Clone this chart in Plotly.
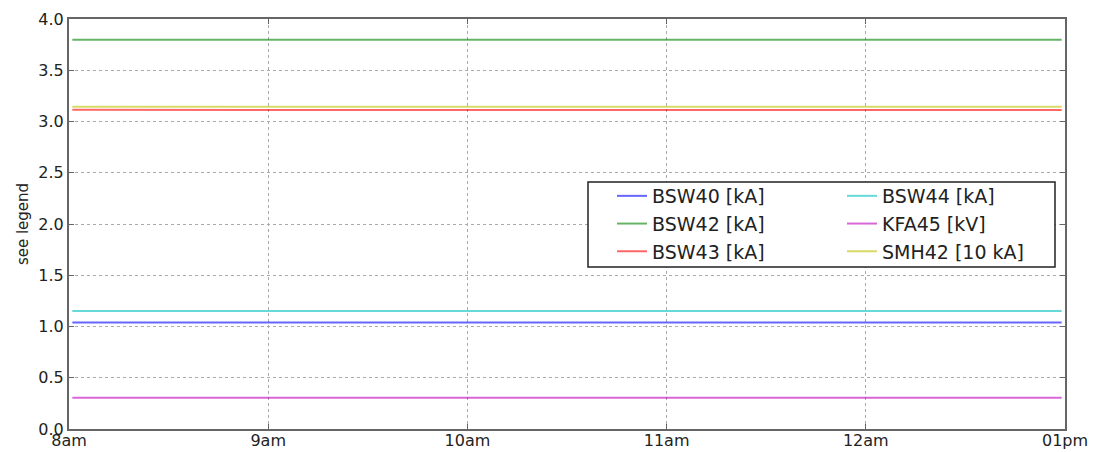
import plotly.graph_objects as go

times = ["2016-01-01 08:01", "2016-01-01 08:30", "2016-01-01 09:00", "2016-01-01 09:30",
         "2016-01-01 10:00", "2016-01-01 10:30", "2016-01-01 11:00", "2016-01-01 11:30",
         "2016-01-01 12:00", "2016-01-01 12:20", "2016-01-01 12:40", "2016-01-01 12:59"]

bsw40 = [1.04, 1.04, 1.04, 1.04, 1.04, 1.04, 1.04, 1.04, 1.04, 1.04, 1.04, 1.04]
bsw42 = [3.797, 3.797, 3.797, 3.797, 3.796, 3.797, 3.796, 3.796, 3.797, 3.795, 3.792, 3.797]
bsw43 = [3.115, 3.112, 3.111, 3.111, 3.111, 3.111, 3.111, 3.111, 3.111, 3.111, 3.111, 3.111]
bsw44 = [1.152, 1.152, 1.152, 1.152, 1.152, 1.152, 1.152, 1.152, 1.152, 1.152, 1.152, 1.152]
kfa45 = [0.304, 0.304, 0.304, 0.304, 0.304, 0.304, 0.304, 0.304, 0.304, 0.304, 0.304, 0.304]
smh42 = [3.145, 3.145, 3.145, 3.145, 3.145, 3.145, 3.145, 3.145, 3.145, 3.145, 3.145, 3.145]

tick_vals = ["2016-01-01 08:00", "2016-01-01 09:00", "2016-01-01 10:00",
             "2016-01-01 11:00", "2016-01-01 12:00", "2016-01-01 13:00"]
tick_text = ["8am", "9am", "10am", "11am", "12am", "01pm"]

series = [
    ("BSW40 [kA]", bsw40, "rgba(0,0,255,0.6)", "legend"),
    ("BSW42 [kA]", bsw42, "rgba(0,128,0,0.6)", "legend"),
    ("BSW43 [kA]", bsw43, "rgba(255,0,0,0.6)", "legend"),
    ("BSW44 [kA]", bsw44, "rgba(0,191,191,0.6)", "legend2"),
    ("KFA45 [kV]", kfa45, "rgba(191,0,191,0.6)", "legend2"),
    ("SMH42 [10 kA]", smh42, "rgba(191,191,0,0.6)", "legend2"),
]

fig = go.Figure()
for name, vals, col, leg in series:
    fig.add_trace(go.Scatter(x=times, y=vals, name=name, mode="lines", legend=leg,
                             line=dict(color=col, width=2)))

font = "DejaVu Sans, sans-serif"
L, R, T, B, W, H = 69, 31, 19, 23, 1096, 452
pw, ph = W - L - R, H - T - B

def px(x):
    return (x - L) / pw

def py(y):
    return (H - B - y) / ph

leg_common = dict(
    orientation="v", xanchor="left", yanchor="top",
    bgcolor="rgba(255,255,255,0)", borderwidth=0,
    font=dict(family=font, size=19, color="#222"),
    tracegroupgap=0, itemwidth=30,
)

fig.update_layout(
    width=W, height=H,
    margin=dict(l=L, r=R, t=T, b=B, autoexpand=False),
    paper_bgcolor="white", plot_bgcolor="white",
    font=dict(family=font, size=16, color="#222"),
    showlegend=True,
    legend=dict(x=px(612), y=py(177), **leg_common),
    legend2=dict(x=px(842), y=py(177), **leg_common),
    shapes=[dict(type="rect", xref="paper", yref="paper",
                 x0=px(588), x1=px(1055), y0=py(267), y1=py(182),
                 line=dict(color="#222", width=1.5), fillcolor="white", layer="above")],
    xaxis=dict(
        type="date", range=["2016-01-01 08:00", "2016-01-01 13:00"],
        tickvals=tick_vals, ticktext=tick_text,
        showgrid=True, gridcolor="#aaaaaa", griddash="dot", gridwidth=1,
        showline=True, linecolor="#666", linewidth=2, mirror="ticks",
        ticks="inside", ticklen=5, tickcolor="#666",
        tickfont=dict(size=16), zeroline=False, automargin=False,
        ticklabelstandoff=-4,
    ),
    yaxis=dict(
        range=[0, 4.0], tickvals=[0, 0.5, 1.0, 1.5, 2.0, 2.5, 3.0, 3.5, 4.0],
        ticktext=["0.0", "0.5", "1.0", "1.5", "2.0", "2.5", "3.0", "3.5", "4.0"],
        showgrid=True, gridcolor="#aaaaaa", griddash="dot", gridwidth=1,
        showline=True, linecolor="#666", linewidth=2, mirror="ticks",
        ticks="inside", ticklen=5, tickcolor="#666",
        tickfont=dict(size=16), zeroline=False, automargin=False,
        title=dict(text="see legend", font=dict(size=15), standoff=6),
    ),
)

fig.write_html("out.html", post_script="document.body.style.margin='0';",
               config={"displayModeBar": False})
